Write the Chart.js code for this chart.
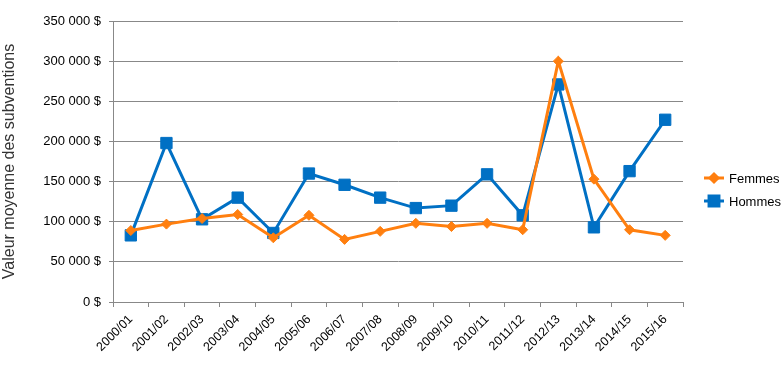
<!DOCTYPE html>
<html>
<head>
<meta charset="utf-8">
<script src="https://cdn.jsdelivr.net/npm/chart.js@4.4.1/dist/chart.umd.min.js"></script>
<style>
  html, body { margin: 0; padding: 0; background: #fff; }
  #wrap { width: 783px; height: 384px; }
</style>
</head>
<body>
<div id="wrap"><canvas id="grants-chart"></canvas></div>
<script>
var years = ['2000/01', '2001/02', '2002/03', '2003/04', '2004/05', '2005/06', '2006/07', '2007/08',
             '2008/09', '2009/10', '2010/11', '2011/12', '2012/13', '2013/14', '2014/15', '2015/16'];
var femmes = [89000, 97000, 104000, 109000, 80000, 108000, 78000, 88000,
              98000, 94000, 98000, 90000, 300000, 153000, 90000, 83000];
var hommes = [83000, 198000, 103000, 130000, 86000, 160000, 146000, 130000,
              117000, 120000, 159000, 108000, 271000, 93000, 163000, 227000];
var yTicks = [0, 50000, 100000, 150000, 200000, 250000, 300000, 350000];

var fontName = "'Liberation Sans', Arial, sans-serif";

function money(v) {
    return String(v).replace(/\B(?=(\d{3})+(?!\d))/g, ' ') + ' $';
}

// excel-like legend on the right: short line with the marker on it
var sideLegend = {
    id: 'sideLegend',
    afterDraw: function (chart) {
        var ctx = chart.ctx;
        var x0 = 704, y0 = 178, step = 23;
        chart.data.datasets.forEach(function (ds, i) {
            var y = y0 + i * step;
            ctx.save();
            ctx.strokeStyle = ds.borderColor;
            ctx.lineWidth = 3;
            ctx.beginPath();
            ctx.moveTo(x0, y);
            ctx.lineTo(x0 + 20, y);
            ctx.stroke();
            ctx.fillStyle = ds.pointBackgroundColor;
            ctx.strokeStyle = ds.pointBackgroundColor;
            Chart.helpers.drawPoint(ctx, {
                pointStyle: ds.pointStyle, radius: ds.pointRadius - 1, borderWidth: 1
            }, x0 + 10, y);
            ctx.fillStyle = '#000';
            ctx.font = '13px ' + fontName;
            ctx.textBaseline = 'middle';
            ctx.fillText(ds.label, x0 + 25, y + 1);
            ctx.restore();
        });
    }
};

var ctx = document.getElementById('grants-chart').getContext('2d');

var config = {
    type: 'line',
    data: {
        labels: years,
        datasets: [{
            label: 'Femmes',
            data: femmes,
            borderColor: '#FF7F0F',
            backgroundColor: '#FF7F0F',
            pointBackgroundColor: '#FF7F0F',
            pointBorderColor: '#FF7F0F',
            pointStyle: 'rectRot',
            pointRadius: 5,
            pointBorderWidth: 1,
            borderWidth: 3,
            tension: 0,
            fill: false
        }, {
            label: 'Hommes',
            data: hommes,
            borderColor: '#0070C4',
            backgroundColor: '#0070C4',
            pointBackgroundColor: '#0070C4',
            pointBorderColor: '#0070C4',
            pointStyle: 'rect',
            pointRadius: 8,
            pointBorderWidth: 1,
            borderWidth: 3,
            tension: 0,
            fill: false
        }]
    },
    options: {
        responsive: true,
        maintainAspectRatio: false,
        animation: false,
        layout: { padding: { top: 21, right: 100, left: 0, bottom: 0 } },
        plugins: {
            legend: { display: false },
            tooltip: { enabled: false }
        },
        scales: {
            x: {
                offset: true,
                grid: {
                    offset: true,
                    drawOnChartArea: false,
                    color: '#888',
                    tickLength: 5
                },
                border: { color: '#888', width: 1 },
                ticks: {
                    color: '#000',
                    font: { family: fontName, size: 12.5 },
                    maxRotation: 45,
                    minRotation: 45,
                    autoSkip: false,
                    padding: 5
                },
                afterFit: function (scale) { scale.height = 82; }
            },
            y: {
                min: 0,
                max: 350000,
                afterBuildTicks: function (scale) {
                    scale.ticks = yTicks.map(function (v) { return { value: v }; });
                },
                grid: { color: '#888', tickLength: 4 },
                border: { color: '#888', width: 1 },
                ticks: {
                    color: '#000',
                    font: { family: fontName, size: 13 },
                    padding: 8,
                    callback: function (v) { return money(v); }
                },
                title: {
                    display: true,
                    text: 'Valeur moyenne des subventions',
                    color: '#333',
                    font: { family: fontName, size: 16 },
                    padding: { top: 0, bottom: 14 }
                },
                afterFit: function (scale) { scale.width = 113; }
            }
        }
    },
    plugins: [sideLegend]
};

var chart = new Chart(ctx, config);
</script>
</body>
</html>
